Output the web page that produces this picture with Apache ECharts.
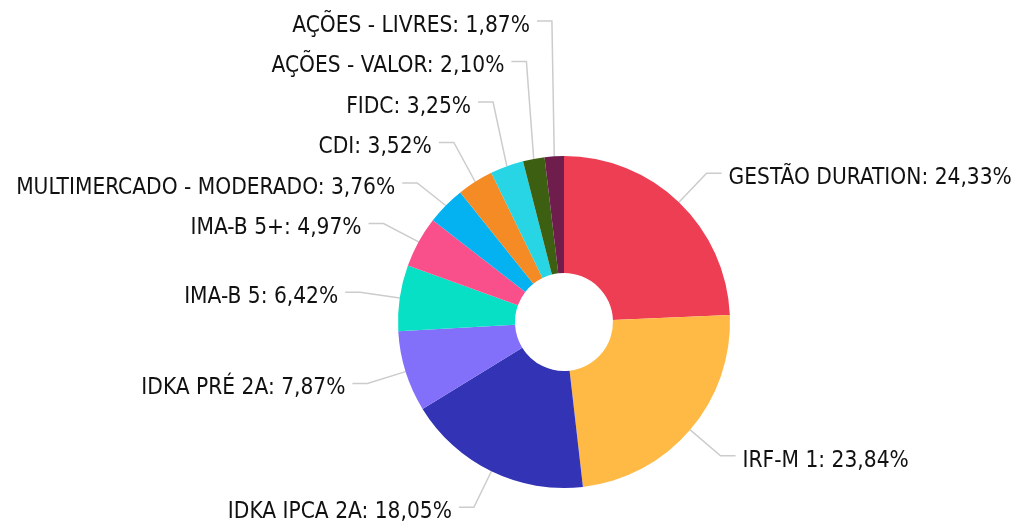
<!DOCTYPE html>
<html>
<head>
<meta charset="utf-8">
<script src="https://cdn.jsdelivr.net/npm/echarts@6/dist/echarts.min.js"></script>
<style>
  html, body { margin: 0; padding: 0; background: #fff; }
  #chart { width: 1017px; height: 524px; }
</style>
</head>
<body>
<div id="chart"></div>
<script>
// categorias e percentuais, sentido horário a partir do topo
const categories = [
  'GESTÃO DURATION', 'IRF-M 1', 'IDKA IPCA 2A', 'IDKA PRÉ 2A', 'IMA-B 5',
  'IMA-B 5+', 'MULTIMERCADO - MODERADO', 'CDI', 'FIDC', 'AÇÕES - VALOR', 'AÇÕES - LIVRES'
]
const values = [24.33, 23.84, 18.05, 7.87, 6.42, 4.97, 3.76, 3.52, 3.25, 2.10, 1.87]
const colors = [
  '#ee3e54', '#ffba45', '#3333b5', '#826ffa', '#07e0c4',
  '#f9508c', '#04b2f2', '#f58b25', '#27d5e4', '#3d5f12', '#6e1d4d'
]

const cx = 564, cy = 322
const seg2 = 15      // trecho horizontal da linha
const gap = 7        // distância linha -> texto
const stackTop = 21  // primeira linha empilhada (topo)
const stackStep = 40.5

const myChart = echarts.init(document.getElementById('chart'))

// rótulos das fatias pequenas (índice >= 5) ficam empilhados para cima
function layoutLabel(params) {
  const pts = params.labelLinePoints
  if (!pts) return {}
  const i = params.dataIndex
  const p0 = pts[0].slice()
  const p1 = pts[1].slice()
  const left = p1[0] < cx
  if (i >= 5) {
    p1[1] = stackTop + (categories.length - 1 - i) * stackStep
  }
  const endX = left ? p1[0] - seg2 : p1[0] + seg2
  return {
    x: left ? endX - gap : endX + gap,
    y: p1[1] + 5,
    align: left ? 'right' : 'left',
    verticalAlign: 'middle',
    labelLinePoints: [p0, p1, [endX, p1[1]]]
  }
}

let option = {
  color: colors,
  series: [
    {
      type: 'pie',
      center: [cx, cy],
      radius: [49, 166],
      startAngle: 90,
      clockwise: true,
      avoidLabelOverlap: false,
      itemStyle: { borderWidth: 0 },
      label: {
        show: true,
        color: '#111',
        fontSize: 22.5,
        fontFamily: 'Tahoma, "DejaVu Sans Condensed", "DejaVu Sans", sans-serif',
        formatter: p => p.name + ': ' + p.value.toFixed(2).replace('.', ',') + '%'
      },
      labelLine: {
        length: 40,
        length2: seg2,
        lineStyle: { color: '#cccccc', width: 1.5 }
      },
      labelLayout: layoutLabel,
      data: categories.map((name, i) => ({ name: name, value: values[i] }))
    }
  ]
}
myChart.setOption(option)
</script>
</body>
</html>
